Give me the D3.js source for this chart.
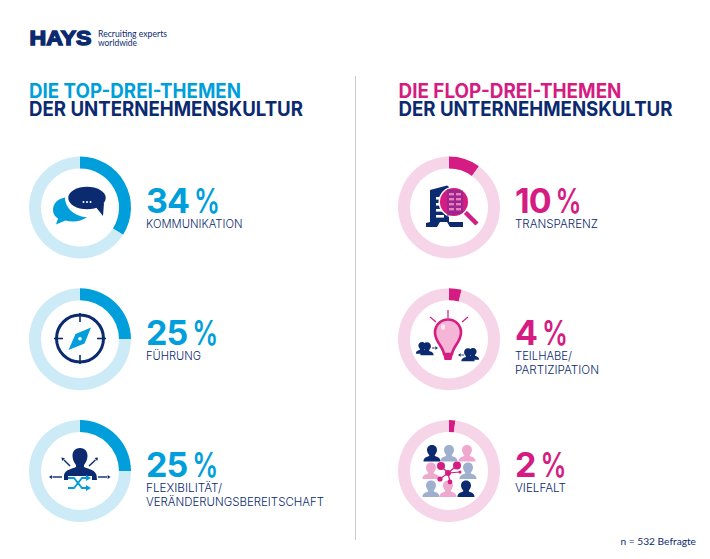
<!DOCTYPE html>
<html>
<head>
<meta charset="utf-8">
<script src="https://d3js.org/d3.v7.min.js"></script>
<style>
  html, body { margin: 0; padding: 0; background: #fff; }
  svg { display: block; }
</style>
</head>
<body>
<div class="canvas"></div>
<script>
// values
const topNames = [['KOMMUNIKATION'], ['FÜHRUNG'], ['FLEXIBILITÄT/', 'VERÄNDERUNGSBEREITSCHAFT']];
const topValues = [34, 25, 25];
const flopNames = [['TRANSPARENZ'], ['TEILHABE/', 'PARTIZIPATION'], ['VIELFALT']];
const flopValues = [10, 4, 2];
const rows = [0, 1, 2];

const navy = '#0b2a6f', blue = '#009fdb', lightBlue = '#cdebf7', pink = '#d41c82', lightPink = '#f7d5e8';
const grey = '#9fb0cf', softPink = '#efa9cf';
const headFont = 'Inter, sans-serif', textFont = 'Lato, sans-serif';

// widths the label text is fitted to
const fit = {
    'KOMMUNIKATION': 96.5, 'FÜHRUNG': 55, 'FLEXIBILITÄT/': 76, 'VERÄNDERUNGSBEREITSCHAFT': 178,
    'TRANSPARENZ': 83, 'TEILHABE/': 57, 'PARTIZIPATION': 84, 'VIELFALT': 51
};

const svg = d3.select('.canvas')
    .append('svg')
    .attr('width', 710)
    .attr('height', 559);

svg.append('rect').attr('width', 710).attr('height', 559).attr('fill', '#fff');

// logo
svg.append('text').text('HAYS')
    .attr('x', 29.5).attr('y', 45)
    .attr('font-family', 'Liberation Sans').attr('font-weight', 700).attr('font-size', 20.5)
    .attr('fill', navy).attr('stroke', navy).attr('stroke-width', 1.4)
    .attr('textLength', 62).attr('lengthAdjust', 'spacingAndGlyphs');
svg.append('text').text('Recruiting experts')
    .attr('x', 98).attr('y', 37)
    .attr('font-family', textFont).attr('font-size', 9.2).attr('fill', navy)
    .attr('textLength', 69).attr('lengthAdjust', 'spacingAndGlyphs');
svg.append('text').text('worldwide')
    .attr('x', 98).attr('y', 45.7)
    .attr('font-family', textFont).attr('font-size', 9.2).attr('fill', navy)
    .attr('textLength', 39).attr('lengthAdjust', 'spacingAndGlyphs');

// divider and footnote
svg.append('line').attr('x1', 355.5).attr('x2', 355.5).attr('y1', 76).attr('y2', 540)
    .attr('stroke', '#c9cce0').attr('stroke-width', 1);
svg.append('text').text('n = 532 Befragte')
    .attr('x', 696).attr('y', 545).attr('text-anchor', 'end')
    .attr('font-family', textFont).attr('font-size', 10.2).attr('fill', navy);

// scales
const y = d3.scalePoint().domain(rows).range([207.5, 471]);
const pie = d3.pie().sort(null).value(d => d);
const arc = d3.arc().innerRadius(39).outerRadius(51);

function heading(x, first, color) {
    svg.append('text').text(first)
        .attr('x', x).attr('y', 97.5)
        .attr('font-family', headFont).attr('font-weight', 700).attr('font-size', 19.6)
        .attr('fill', color).attr('textLength', first.includes('TOP') ? 212 : 223).attr('lengthAdjust', 'spacingAndGlyphs');
    svg.append('text').text('DER UNTERNEHMENSKULTUR')
        .attr('x', x).attr('y', 116)
        .attr('font-family', headFont).attr('font-weight', 700).attr('font-size', 19.6)
        .attr('fill', navy).attr('textLength', 274).attr('lengthAdjust', 'spacingAndGlyphs');
}
heading(29, 'DIE TOP-DREI-THEMEN', blue);
heading(398.5, 'DIE FLOP-DREI-THEMEN', pink);

function column(cx, tx, values, names, color, light) {
    const g = svg.append('g').selectAll('g').data(values).enter().append('g')
        .attr('transform', (d, i) => `translate(${cx},${y(i)})`);

    g.selectAll('path').data(d => pie([d, 100 - d])).enter().append('path')
        .attr('d', arc)
        .attr('fill', (d, i) => i === 0 ? color : light);

    const t = svg.append('g').selectAll('g').data(values).enter().append('g')
        .attr('transform', (d, i) => `translate(${tx},${y(i)})`);
    t.each(function (d, i) {
        const row = d3.select(this);
        const num = row.append('text').text(d)
            .attr('y', 5.8)
            .attr('font-family', headFont).attr('font-weight', 700).attr('font-size', 34)
            .attr('letter-spacing', -1)
            .attr('fill', color);
        // the % sign sits apart from the digits and is narrower than Inter's
        row.append('text').text('%')
            .attr('x', num.node().getComputedTextLength() + 5)
            .attr('y', 5.8)
            .attr('font-family', headFont).attr('font-weight', 600).attr('font-size', 34)
            .attr('textLength', 26).attr('lengthAdjust', 'spacingAndGlyphs')
            .attr('fill', color);
        row.selectAll('.name').data(names[i]).enter().append('text')
            .attr('class', 'name').text(n => n)
            .attr('y', (n, j) => 20.5 + j * 14)
            .attr('font-family', headFont).attr('font-weight', 300).attr('font-size', 12)
            .attr('textLength', n => fit[n]).attr('lengthAdjust', 'spacingAndGlyphs')
            .attr('fill', navy);
    });
}
column(80, 146, topValues, topNames, blue, lightBlue);
column(449, 515, flopValues, flopNames, pink, lightPink);

// icons, drawn in page coordinates
const icons = svg.append('g');

function person(x, yy, s, color) {
    icons.append('path')
        .attr('transform', `translate(${x},${yy}) scale(${s})`)
        .attr('fill', color)
        .attr('d', 'M0,-8.5 C3.4,-8.5 5,-6 5,-3.4 C5,-1.2 3.8,0.4 2.8,1.4 L2.8,2.6 C5,3.6 8.5,4 8.5,8 L-8.5,8 C-8.5,4 -5,3.6 -2.8,2.6 L-2.8,1.4 C-3.8,0.4 -5,-1.2 -5,-3.4 C-5,-6 -3.4,-8.5 0,-8.5 Z');
}

function arrow(x1, y1, x2, y2, color, w) {
    const a = Math.atan2(y2 - y1, x2 - x1), h = 2.8 + w / 2;
    icons.append('line').attr('x1', x1).attr('y1', y1)
        .attr('x2', x2 - Math.cos(a) * h).attr('y2', y2 - Math.sin(a) * h)
        .attr('stroke', color).attr('stroke-width', w);
    icons.append('path').attr('fill', color)
        .attr('d', `M${x2},${y2} L${x2 - h * Math.cos(a - 0.6)},${y2 - h * Math.sin(a - 0.6)} L${x2 - h * Math.cos(a + 0.6)},${y2 - h * Math.sin(a + 0.6)} Z`);
}

// speech bubbles
icons.append('path').attr('fill', blue)
    .attr('d', 'M65,197.5 C57,199 53,204 53,210 C53,214 55,216.5 58,218.5 L56,224.5 L65.5,220.5 C72,222.5 81,222 87,217 C76,217 65,209 65,197.5 Z');
icons.append('ellipse').attr('cx', 87).attr('cy', 198).attr('rx', 18.7).attr('ry', 11.2).attr('fill', navy);
icons.append('path').attr('fill', navy).attr('d', 'M95,206 L103,216 L104,203 Z');
icons.selectAll('.dot').data([-3.5, 0, 3.5]).enter().append('circle')
    .attr('cx', d => 87 + d).attr('cy', 202).attr('r', 1).attr('fill', '#fff');

// compass
icons.append('circle').attr('cx', 80).attr('cy', 338.5).attr('r', 23.5)
    .attr('fill', 'none').attr('stroke', navy).attr('stroke-width', 3);
[[80, 313, 80, 322], [80, 355, 80, 364], [54, 338.5, 63, 338.5], [97, 338.5, 106, 338.5]].forEach(l => {
    icons.append('line').attr('x1', l[0]).attr('y1', l[1]).attr('x2', l[2]).attr('y2', l[3])
        .attr('stroke', navy).attr('stroke-width', 1.6);
});
icons.append('path').attr('fill', blue)
    .attr('d', 'M91,327.5 L84.5,343.5 L68.5,350 L75.5,334 Z');
icons.append('circle').attr('cx', 80).attr('cy', 338.7).attr('r', 1.8).attr('fill', '#fff');

// person with arrows
icons.append('path').attr('fill', navy)
    .attr('d', 'M80,448 C85.5,448 87.5,452 87.5,456 C87.5,460 85.5,463 84,465 L84,467 C88,469 95,469.5 96.5,475 L97,480 L64,480 L64,475 C65,469.5 72,469 76,467 L76,465 C74.5,463 72.5,460 72.5,456 C72.5,452 74.5,448 80,448 Z');
icons.append('rect').attr('x', 68).attr('y', 476).attr('width', 24).attr('height', 5).attr('fill', '#fff');
arrow(62, 477, 49, 477, navy, 1.4);
arrow(98, 477, 110.5, 477, navy, 1.4);
arrow(70, 466, 61.5, 457.5, navy, 1.4);
arrow(89, 466, 98, 457.5, navy, 1.4);
icons.append('path').attr('fill', 'none').attr('stroke', blue).attr('stroke-width', 1.8)
    .attr('d', 'M68,478 L74,478 L82,488 L87,488 M68,488 L74,488 L82,478 L87,478');
icons.append('path').attr('fill', blue).attr('d', 'M86,475 L91,478 L86,481 Z M86,485 L91,488 L86,491 Z');

// building and magnifier
icons.append('path').attr('fill', navy)
    .attr('d', 'M430,190 L447,185.5 L449,187 L449,222 L463,222 L463,227 L450,227 L447,222 L440,222 L437,227 L426,227 L426,223 L430,222 Z');
[197, 203, 209, 215].forEach(v => {
    icons.append('rect').attr('x', 436).attr('y', v).attr('width', 8).attr('height', 2.6).attr('fill', '#fff');
});
icons.append('line').attr('x1', 465).attr('y1', 212).attr('x2', 477).attr('y2', 224)
    .attr('stroke', pink).attr('stroke-width', 4.5);
icons.append('circle').attr('cx', 454).attr('cy', 202).attr('r', 15.5).attr('fill', '#fff');
icons.append('circle').attr('cx', 454).attr('cy', 202).attr('r', 14).attr('fill', pink);
icons.append('path').attr('fill', '#8a2a90').attr('d', 'M447,189 L463,191 L463,213 L447,216 Z').attr('opacity', 0.75);
[193, 198, 203, 208].forEach(v => {
    [449, 456].forEach(u => {
        icons.append('rect').attr('x', u).attr('y', v).attr('width', 5).attr('height', 2.4).attr('fill', '#ec7fbb');
    });
});

// light bulb
icons.append('path').attr('fill', '#f6b4d6').attr('stroke', pink).attr('stroke-width', 2.6)
    .attr('d', 'M444,354 C443,346 435,342 435,332.5 C435,325 441,319.5 448,319.5 C455,319.5 461,325 461,332.5 C461,342 453,346 452,354 Z');
icons.append('path').attr('fill', pink).attr('d', 'M443,353 L453,353 L451.5,360 L444.5,360 Z');
icons.append('ellipse').attr('cx', 443).attr('cy', 327).attr('rx', 2).attr('ry', 3).attr('fill', '#fce3f0');
[[448, 310, 448, 318], [430, 317, 436, 322], [468, 317, 462, 322]].forEach(l => {
    icons.append('line').attr('x1', l[0]).attr('y1', l[1]).attr('x2', l[2]).attr('y2', l[3])
        .attr('stroke', pink).attr('stroke-width', 1.2);
});
person(422, 348, 0.72, navy);
person(427, 349, 0.78, navy);
person(473, 354, 0.72, navy);
person(468, 355, 0.78, navy);
arrow(432, 348, 438, 348, navy, 0.9);
arrow(464, 355, 458, 355, navy, 0.9);

// people with network
[[432, 453.5, navy], [449, 453.5, grey], [467, 453.5, softPink],
 [431, 471, softPink], [468, 471, grey],
 [431, 489, grey], [448, 489, softPink], [466, 489, navy]].forEach(p => person(p[0], p[1], 1, p[2]));
const hub = [448, 473];
const nodes = [[441, 466, 4], [457, 465.5, 4], [440, 479, 2.6], [450, 482, 2.4], [460, 472, 1.5]];
icons.selectAll('.spoke').data(nodes).enter().append('line').attr('class', 'spoke')
    .attr('x1', hub[0]).attr('y1', hub[1]).attr('x2', d => d[0]).attr('y2', d => d[1])
    .attr('stroke', pink).attr('stroke-width', 1.2);
icons.selectAll('.node').data(nodes).enter().append('circle').attr('class', 'node')
    .attr('cx', d => d[0]).attr('cy', d => d[1]).attr('r', d => d[2]).attr('fill', pink);
icons.append('circle').attr('cx', hub[0]).attr('cy', hub[1]).attr('r', 3).attr('fill', pink);
</script>
</body>
</html>
